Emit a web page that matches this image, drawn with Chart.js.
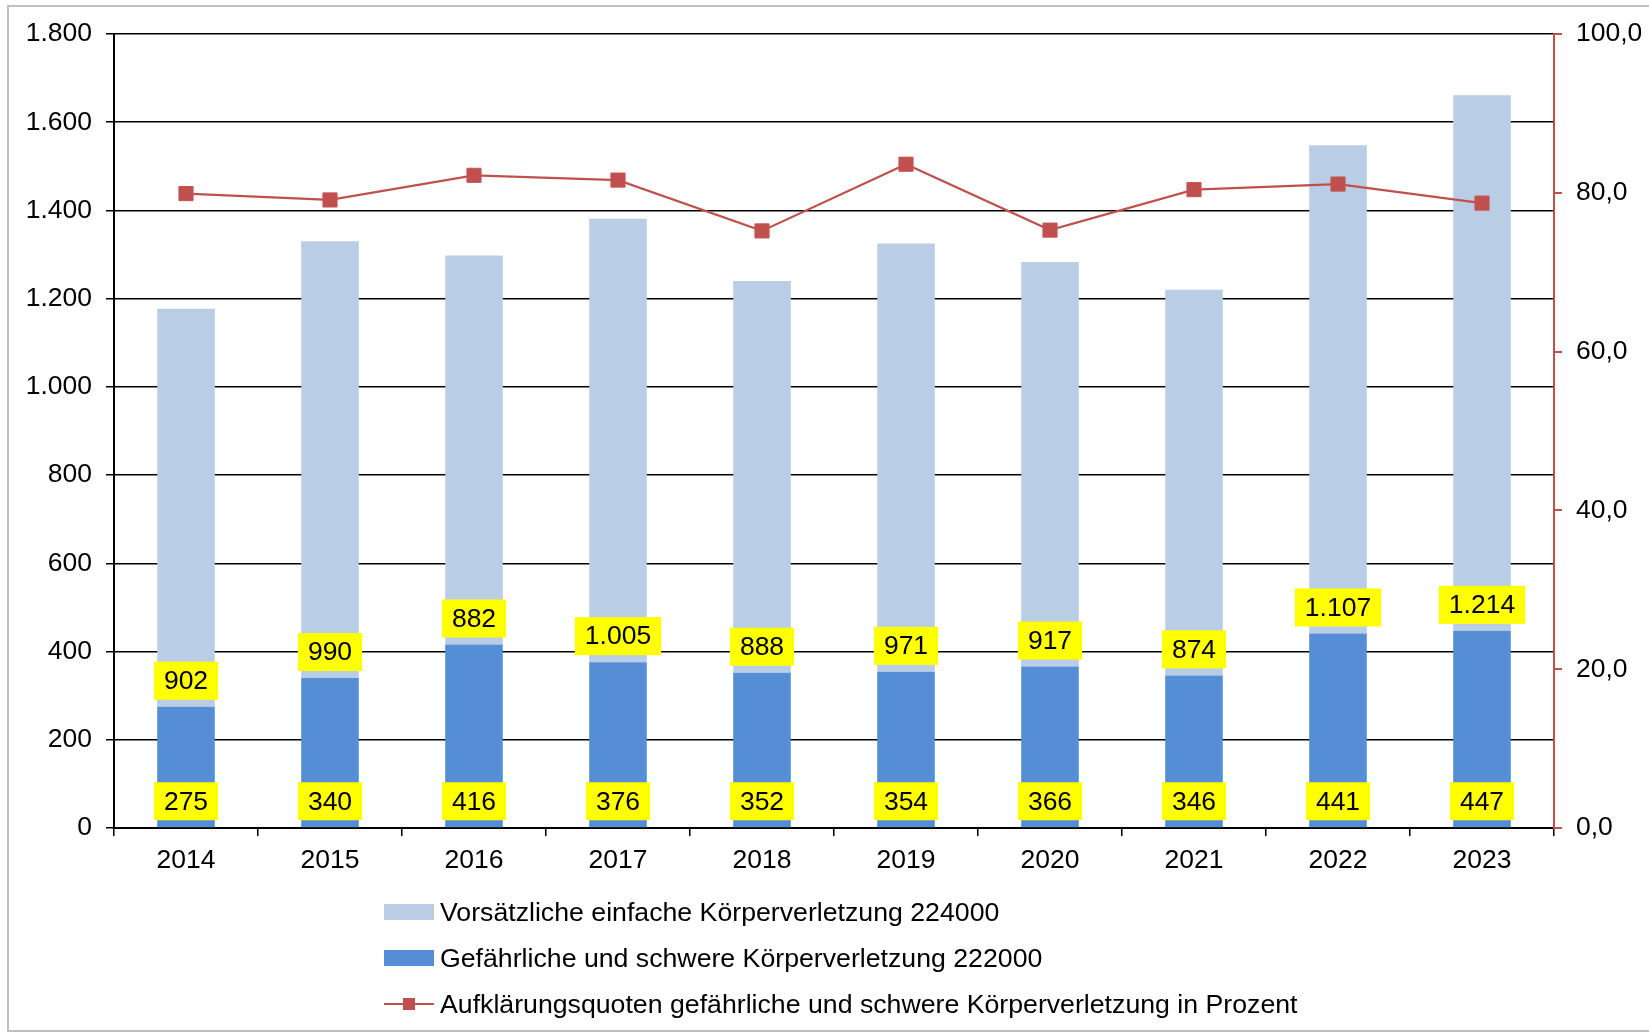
<!DOCTYPE html>
<html>
<head>
<meta charset="utf-8">
<script src="https://cdn.jsdelivr.net/npm/chart.js@4/dist/chart.umd.min.js"></script>
<style>
  html, body { margin: 0; padding: 0; background: #fff; }
  #wrap { position: relative; width: 1649px; height: 1034px; }
  #frame { position: absolute; left: 7px; top: 5px; width: 1660px; height: 1027px;
           border: 2px solid #bfbfbf; box-sizing: border-box; }
  #legend { position: absolute; left: 384px; top: 889px; font: 26.7px "Liberation Sans", Arial, sans-serif; color: #000; }
  .row { height: 46px; display: flex; align-items: center; }
  .sw { width: 50px; height: 16px; margin-right: 6px; }
  .ln { width: 50px; height: 16px; margin-right: 6px; position: relative; }
  .ln::before { content: ""; position: absolute; left: 0; right: 0; top: 7px; height: 2px; background: #C0504D; }
  .ln::after { content: ""; position: absolute; left: 19px; top: 2px; width: 12px; height: 12px; background: #C0504D; }
</style>
</head>
<body>
<div id="wrap">
  <canvas id="chart"></canvas>
  <div id="frame"></div>
  <div id="legend">
    <div class="row"><span class="sw" style="background:#B9CDE5"></span>Vorsätzliche einfache Körperverletzung 224000</div>
    <div class="row"><span class="sw" style="background:#558ED5"></span>Gefährliche und schwere Körperverletzung 222000</div>
    <div class="row"><span class="ln"></span>Aufklärungsquoten gefährliche und schwere Körperverletzung in Prozent</div>
  </div>
</div>
<script>
const years = ['2014', '2015', '2016', '2017', '2018', '2019', '2020', '2021', '2022', '2023'];
const einfache = [902, 990, 882, 1005, 888, 971, 917, 874, 1107, 1214];
const gefaehrliche = [275, 340, 416, 376, 352, 354, 366, 346, 441, 447];
const quote = [79.9, 79.1, 82.2, 81.6, 75.2, 83.6, 75.3, 80.4, 81.1, 78.7];

const FONT = '"Liberation Sans", Arial, sans-serif';
Chart.defaults.color = '#000';
Chart.defaults.font.family = FONT;
Chart.defaults.font.size = 26.5;

function thousands(v) {
  return String(Math.round(v)).replace(/\B(?=(\d{3})+(?!\d))/g, '.');
}

// yellow value boxes at the base of each bar segment
const valueBoxes = {
  id: 'valueBoxes',
  afterDatasetsDraw(chart) {
    const ctx = chart.ctx;
    ctx.save();
    ctx.font = '26.5px ' + FONT;
    ctx.textAlign = 'center';
    ctx.textBaseline = 'middle';
    chart.data.datasets.forEach((ds, di) => {
      if (ds.type === 'line') return;
      chart.getDatasetMeta(di).data.forEach((bar, i) => {
        const text = thousands(ds.data[i]);
        const w = ctx.measureText(text).width + 20;
        const h = 38;
        const bottom = bar.base - 7;
        ctx.fillStyle = '#FFFF00';
        ctx.fillRect(bar.x - w / 2, bottom - h, w, h);
        ctx.fillStyle = '#000';
        ctx.fillText(text, bar.x, bottom - h / 2 + 1);
      });
    });
    ctx.restore();
  }
};

new Chart(document.getElementById('chart'), {
  type: 'bar',
  data: {
    labels: years,
    datasets: [
      {
        type: 'line',
        label: 'Aufklärungsquoten gefährliche und schwere Körperverletzung in Prozent',
        data: quote,
        yAxisID: 'y1',
        borderColor: '#C0504D',
        backgroundColor: '#C0504D',
        borderWidth: 2.2,
        pointStyle: 'rect',
        pointRadius: 10,
        pointBorderWidth: 1,
        pointBorderColor: '#C65552',
        tension: 0,
        order: 0
      },
      {
        label: 'Gefährliche und schwere Körperverletzung 222000',
        data: gefaehrliche,
        backgroundColor: '#558ED5',
        stack: 's',
        order: 1
      },
      {
        label: 'Vorsätzliche einfache Körperverletzung 224000',
        data: einfache,
        backgroundColor: '#B9CDE5',
        stack: 's',
        order: 1
      }
    ]
  },
  options: {
    responsive: true,
    maintainAspectRatio: false,
    animation: false,
    layout: { padding: { left: 0, right: 0, top: 34, bottom: 0 } },
    datasets: { bar: { categoryPercentage: 1, barPercentage: 0.4 } },
    scales: {
      x: {
        stacked: true,
        afterFit(s) { s.height = 206; },
        border: { color: '#000', width: 2 },
        grid: { offset: true, drawOnChartArea: false, color: '#000', lineWidth: 1.5, tickLength: 8 },
        ticks: { padding: 9 }
      },
      y: {
        stacked: true,
        min: 0,
        max: 1800,
        afterFit(s) { s.width = 114; },
        border: { color: '#000', width: 2 },
        grid: { color: '#000', lineWidth: 1.5, tickLength: 8 },
        ticks: { stepSize: 200, padding: 14, callback: v => thousands(v) }
      },
      y1: {
        position: 'right',
        min: 0,
        max: 100,
        afterFit(s) { s.width = 95; },
        border: { color: '#C0504D', width: 2 },
        grid: { drawOnChartArea: false, color: '#C0504D', lineWidth: 2, tickLength: 8 },
        ticks: { stepSize: 20, padding: 14, callback: v => v.toFixed(1).replace('.', ',') }
      }
    },
    plugins: {
      legend: { display: false },
      tooltip: { enabled: false }
    }
  },
  plugins: [valueBoxes]
});
</script>
</body>
</html>
